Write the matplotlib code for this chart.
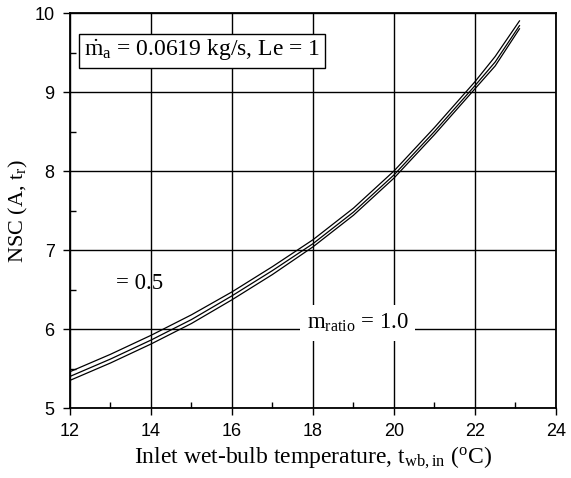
import matplotlib
matplotlib.use('Agg')
import matplotlib.pyplot as plt
from matplotlib.ticker import MultipleLocator

plt.rcParams['mathtext.fontset'] = 'custom'
plt.rcParams['mathtext.rm'] = 'Liberation Serif'
plt.rcParams['mathtext.it'] = 'Liberation Serif:italic'

# curves (three nearly coincident lines)
t_wb = [12, 13, 14, 15, 16, 17, 18, 19, 20, 21, 22, 22.5, 23.1]
nsc_upper = [5.46, 5.68, 5.92, 6.18, 6.47, 6.79, 7.13, 7.53, 8.00, 8.55, 9.13, 9.45, 9.90]
nsc_mid = [5.40, 5.62, 5.86, 6.12, 6.42, 6.74, 7.08, 7.48, 7.95, 8.50, 9.08, 9.38, 9.84]
nsc_lower = [5.35, 5.57, 5.81, 6.07, 6.37, 6.69, 7.04, 7.44, 7.91, 8.46, 9.04, 9.33, 9.80]

xticks = [12, 14, 16, 18, 20, 22, 24]
yticks = [5, 6, 7, 8, 9, 10]

fig = plt.figure(figsize=(5.71, 4.78), dpi=100)
ax = fig.add_axes([0.1226, 0.1464, 0.851, 0.8264])

for yy in (nsc_upper, nsc_mid, nsc_lower):
    ax.plot(t_wb, yy, color='black', lw=0.9, zorder=3)

ax.set_xlim(12, 24)
ax.set_ylim(5, 10)
ax.set_xticks(xticks)
ax.set_yticks(yticks)
ax.xaxis.set_minor_locator(MultipleLocator(1))
ax.yaxis.set_minor_locator(MultipleLocator(0.5))
ax.grid(True, which='major', color='black', lw=1.0, zorder=1)
ax.tick_params(which='major', direction='out', length=5, width=1, labelsize=13,
               labelfontfamily='Liberation Sans')
ax.tick_params(axis='y', which='major', pad=6)
ax.tick_params(axis='x', which='major', pad=6)
ax.tick_params(which='minor', direction='in', length=4, width=1)
for s in ax.spines.values():
    s.set_linewidth(1.3)

ax.set_xlabel(r'Inlet wet-bulb temperature, t$_{\mathrm{wb,in}}$ ($^{\mathrm{o}}$C)',
              family='Liberation Serif', fontsize=17, labelpad=3)
ax.set_ylabel(r'NSC (A, t$_{\mathrm{r}}$)', family='Liberation Serif', fontsize=16)
ax.yaxis.set_label_coords(-0.082, 0.5)

ax.text(12.35, 9.52, r'$\dot{\mathrm{m}}_{\mathrm{a}}$ = 0.0619 kg/s, Le = 1',
        family='Liberation Serif', fontsize=17, va='center', ha='left', zorder=5,
        bbox=dict(boxstyle='square,pad=0.2', fc='white', ec='black', lw=1.0))
ax.text(13.73, 6.58, '= 0.5', family='Liberation Serif', fontsize=16.5,
        ha='center', va='center', zorder=5)
ax.text(19.1, 6.08, r'm$_{\mathrm{ratio}}$ = 1.0', family='Liberation Serif', fontsize=16.5,
        ha='center', va='center', zorder=5,
        bbox=dict(boxstyle='square,pad=0.3', fc='white', ec='none'))

fig.savefig('out.png', dpi=100)
